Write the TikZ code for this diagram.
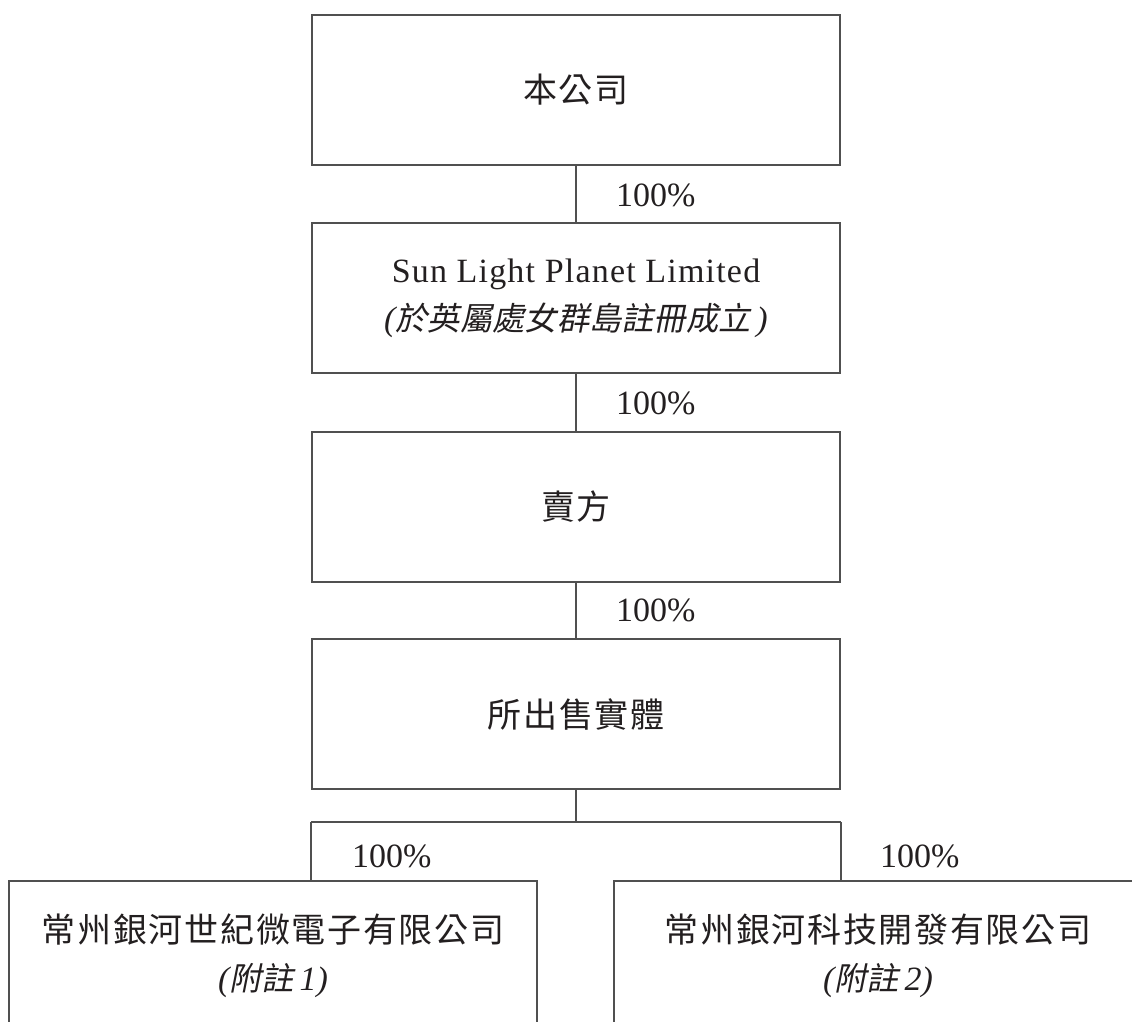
\documentclass[tikz,border=0pt]{standalone}
\usepackage{fontspec}
\setmainfont{Liberation Serif}
\newfontfamily\cjk[LetterSpace=5]{Noto Sans CJK TC}
\newfontfamily\cjkit[FakeSlant=0.2,Scale=0.95]{Noto Sans CJK TC}
\newfontfamily\lspaced[LetterSpace=3.5]{Liberation Serif}
\definecolor{ink}{HTML}{231F20}
\definecolor{rule}{HTML}{505050}
\begin{document}
\begin{tikzpicture}[x=1pt,y=-1pt,
  entity/.style={draw=rule, line width=2pt, rectangle, minimum width=528pt,
    minimum height=150pt, inner sep=0pt, align=center, text=ink,
    font=\fontsize{34}{48}\selectfont},
  pct/.style={anchor=west, inner sep=0pt, text=ink, font=\fontsize{34}{40}\selectfont},
  link/.style={draw=rule, line width=2pt}]
\clip (0,0) rectangle (1132,1021);
\fill[white] (0,0) rectangle (1132,1021);
\node[entity] (c) at (576,90) {\cjk 本公司};
\node[entity] (s) at (576,298) {\raisebox{-3pt}{\lspaced Sun Light Planet Limited}\\\raisebox{-3pt}{{\itshape(}{\cjkit 於英屬處女群島註冊成立}{\itshape\,)}}};
\node[entity] (v) at (576,506.5) {\cjk 賣方};
\node[entity] (e) at (576,714) {\cjk 所出售實體};
\node[entity] (a) at (273,956) {\raisebox{-3pt}{\cjk 常州銀河世紀微電子有限公司}\\\raisebox{-3pt}{{\itshape(}{\cjkit 附註}{\itshape\,1)}}};
\node[entity] (b) at (878,956) {\raisebox{-3pt}{\cjk 常州銀河科技開發有限公司}\\\raisebox{-3pt}{{\itshape(}{\cjkit 附註}{\itshape\,2)}}};
\draw[link] (c.south) -- (s.north);
\draw[link] (s.south) -- (v.north);
\draw[link] (v.south) -- (e.north);
\coordinate (j) at (576,822);
\coordinate (jl) at (e.west |- j);
\coordinate (jr) at (e.east |- j);
\draw[link] (e.south) -- (j);
\draw[link] (jl) -- (jr);
\draw[link] (jl) -- (jl |- a.north);
\draw[link] (jr) -- (jr |- b.north);
\node[pct] (p1) at (616,195) {100\%};
\node[pct] (p2) at (616,403) {100\%};
\node[pct] (p3) at (616,610) {100\%};
\node[pct] (p4) at (352,856) {100\%};
\node[pct] (p5) at (880,856) {100\%};
\end{tikzpicture}
\end{document}
